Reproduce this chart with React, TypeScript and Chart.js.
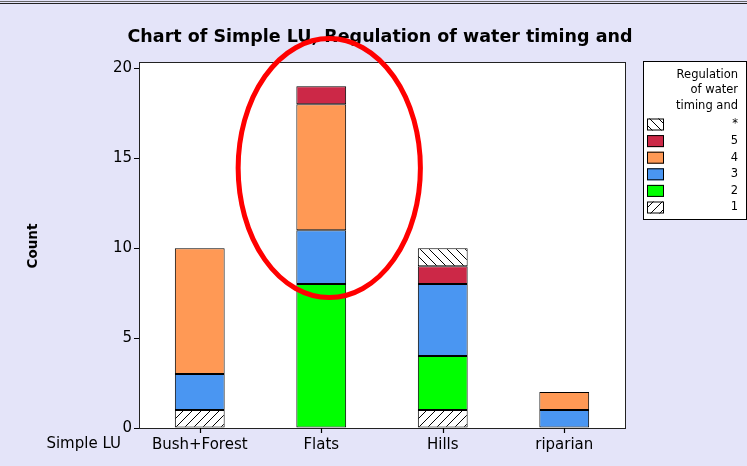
import React, { useEffect, useRef } from "react";
import { Chart, registerables } from "chart.js";
Chart.register(...registerables);

const categories = ["Bush+Forest", "Flats", "Hills", "riparian"];
const seriesLabels = ["1", "2", "3", "4", "5", "*"];
const values1 = [1, 0, 1, 0];
const values2 = [0, 8, 3, 0];
const values3 = [2, 3, 4, 1];
const values4 = [7, 7, 0, 1];
const values5 = [0, 1, 1, 0];
const valuesStar = [0, 0, 1, 0];
const yTicks = [0, 5, 10, 15, 20];
const titleText = "Chart of Simple LU, Regulation of water timing and";
const legendTitle = ["Regulation", "of water", "timing and"];
const xAxisName = "Simple LU";
const yAxisName = "Count";

const FONT = "'DejaVu Sans', Verdana, sans-serif";
const BG = "#E4E4F9";

function makeHatch(forward: boolean): CanvasPattern | string {
  const c = document.createElement("canvas");
  const s = 9;
  c.width = s;
  c.height = s;
  const g = c.getContext("2d");
  if (!g) return "#fff";
  g.fillStyle = "#fff";
  g.fillRect(0, 0, s, s);
  g.strokeStyle = "#000";
  g.lineWidth = 1;
  g.beginPath();
  if (forward) {
    g.moveTo(-1, s + 1); g.lineTo(s + 1, -1);
    g.moveTo(-2, 2); g.lineTo(2, -2);
    g.moveTo(s - 2, s + 2); g.lineTo(s + 2, s - 2);
  } else {
    g.moveTo(-1, -1); g.lineTo(s + 1, s + 1);
    g.moveTo(-2, s - 2); g.lineTo(2, s + 2);
    g.moveTo(s - 2, -2); g.lineTo(s + 2, 2);
  }
  g.stroke();
  const ctx = document.createElement("canvas").getContext("2d");
  return (ctx && ctx.createPattern(c, "repeat")) || "#fff";
}

export default function App() {
  const ref = useRef<HTMLCanvasElement | null>(null);

  useEffect(() => {
    const canvas = ref.current;
    if (!canvas) return;
    const fills = [
      makeHatch(true),
      "#00FF00",
      "#4A96F2",
      "#FF9955",
      "#CC2847",
      makeHatch(false),
    ];
    const seriesValues = [values1, values2, values3, values4, values5, valuesStar];

    const decor = {
      id: "decor",
      beforeDraw(chart: any) {
        const { ctx, chartArea: a } = chart;
        ctx.save();
        ctx.fillStyle = "#fff";
        ctx.fillRect(a.left, a.top, a.right - a.left, a.bottom - a.top);
        ctx.restore();
      },
      afterDraw(chart: any) {
        const { ctx, chartArea: a, scales } = chart;
        const xs = scales.x;
        const ys = scales.y;
        ctx.save();
        // frame
        ctx.strokeStyle = "#222";
        ctx.lineWidth = 1;
        ctx.strokeRect(a.left + 0.5, a.top + 0.5, a.right - a.left, a.bottom - a.top);

        // x tick marks at category centres
        ctx.strokeStyle = "#000";
        ctx.lineWidth = 1.2;
        ctx.beginPath();
        categories.forEach((_, i) => {
          const px = Math.round(xs.getPixelForValue(i)) + 0.5;
          ctx.moveTo(px, a.bottom);
          ctx.lineTo(px, a.bottom + 5);
        });
        ctx.stroke();
        ctx.lineWidth = 1;

        // title
        ctx.fillStyle = "#000";
        ctx.font = `bold 17.5px ${FONT}`;
        ctx.textAlign = "center";
        ctx.textBaseline = "middle";
        ctx.fillText(titleText, (a.left + a.right) / 2 - 2, 37);

        // y axis name
        ctx.save();
        ctx.translate(33, (a.top + a.bottom) / 2 + 1);
        ctx.rotate(-Math.PI / 2);
        ctx.font = `bold 13.5px ${FONT}`;
        ctx.fillText(yAxisName, 0, 0);
        ctx.restore();

        // x axis name
        ctx.font = `15px ${FONT}`;
        ctx.textAlign = "right";
        ctx.fillText(xAxisName, a.left - 18, a.bottom + 16);

        // legend
        const x0 = a.right + 18;
        const y0 = a.top - 1;
        const w = 103;
        const h = 158;
        ctx.fillStyle = "#fff";
        ctx.fillRect(x0, y0, w, h);
        ctx.strokeStyle = "#000";
        ctx.strokeRect(x0 + 0.5, y0 + 0.5, w, h);
        ctx.fillStyle = "#000";
        ctx.font = `11.5px ${FONT}`;
        ctx.textAlign = "right";
        legendTitle.forEach((t, i) => {
          ctx.fillText(t, x0 + 95, y0 + 14 + i * 15.5);
        });
        const ds = chart.data.datasets;
        for (let k = ds.length - 1, i = 0; k >= 0; k--, i++) {
          const cy = y0 + 63.5 + i * 16.6;
          ctx.fillStyle = ds[k].backgroundColor;
          ctx.fillRect(x0 + 4, cy - 6, 17, 12);
          ctx.strokeStyle = "#000";
          ctx.strokeRect(x0 + 4.5, cy - 5.5, 16, 11);
          ctx.fillStyle = "#000";
          ctx.fillText(ds[k].label, x0 + 95, cy);
        }

        // red ellipse annotation around Flats
        const catW = (a.right - a.left) / categories.length;
        const cx = xs.getPixelForValue(1) + 0.066 * catW;
        const cyE = ys.getPixelForValue(14.45);
        const rx = 0.75 * catW;
        const ry = ys.getPixelForValue(0) - ys.getPixelForValue(7.2);
        ctx.beginPath();
        ctx.ellipse(cx, cyE, rx, ry, 0, 0, Math.PI * 2);
        ctx.strokeStyle = "#FF0000";
        ctx.lineWidth = 5;
        ctx.stroke();
        ctx.restore();
      },
    };

    const chart = new Chart(canvas, {
      type: "bar",
      data: {
        labels: categories,
        datasets: seriesLabels.map((lab, i) => ({
          label: lab,
          data: seriesValues[i],
          backgroundColor: fills[i] as any,
          borderColor: "#000",
          borderWidth: 1,
          borderSkipped: false,
          categoryPercentage: 1,
          barPercentage: 0.41,
        })),
      },
      options: {
        responsive: false,
        animation: false,
        layout: { padding: { left: 0, right: 122, top: 62, bottom: 0 } },
        plugins: {
          legend: { display: false },
          title: { display: false },
          tooltip: { enabled: false },
        },
        scales: {
          x: {
            stacked: true,
            grid: { display: false, tickLength: 5 },
            border: { display: true, color: "#000" },
            ticks: { font: { family: FONT, size: 15 }, color: "#000", padding: 3, maxRotation: 0 },
            afterFit: (s: any) => {
              s.height = 38;
            },
          },
          y: {
            stacked: true,
            min: 0,
            max: 20.35,
            afterBuildTicks: (s: any) => {
              s.ticks = yTicks.map((v) => ({ value: v }));
            },
            grid: { display: true, drawOnChartArea: false, tickLength: 5, color: "#000" },
            border: { display: true, color: "#000" },
            ticks: { font: { family: FONT, size: 15 }, color: "#000", padding: 2 },
            afterFit: (s: any) => {
              s.width = 139;
            },
          },
        },
      },
      plugins: [decor],
    });
    return () => chart.destroy();
  }, []);

  return (
    <div style={{ position: "fixed", left: 0, top: 0, width: 747, height: 466, background: BG, overflow: "hidden" }}>
      <div style={{ position: "absolute", left: 0, top: 1, width: 747, height: 1, background: "#666" }} />
      <div style={{ position: "absolute", left: 0, top: 3, width: 747, height: 1, background: "#222" }} />
      <canvas ref={ref} width={747} height={466} style={{ display: "block" }} />
    </div>
  );
}
